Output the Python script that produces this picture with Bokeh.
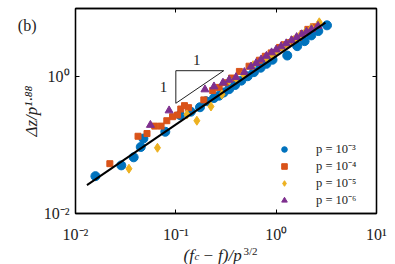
from bokeh.plotting import figure
from bokeh.models import (LogAxis, FixedTicker, CustomJSTickFormatter, Label,
                          Legend, LegendItem, Range1d, Title)
from bokeh.embed import file_html
from bokeh.resources import INLINE

# ---------------- data ----------------
x_p3 = [0.0158, 0.0286, 0.038, 0.0447, 0.0475, 0.0785, 0.110, 0.141, 0.174,
        0.20, 0.24, 0.27, 0.30, 0.34, 0.39, 0.45, 0.52, 0.60, 0.70, 0.80,
        0.92, 1.29, 1.62, 1.92, 2.24, 2.63, 3.21]
y_p3 = [0.0352, 0.0506, 0.0664, 0.094, 0.125, 0.157, 0.276, 0.309, 0.359,
        0.44, 0.49, 0.53, 0.59, 0.66, 0.76, 0.88, 1.02, 1.17, 1.36, 1.55,
        1.78, 2.05, 2.81, 3.33, 4.04, 4.68, 5.67]

x_p4 = [0.0220, 0.0420, 0.0516, 0.0617, 0.0713, 0.0813, 0.0927, 0.104, 0.112,
        0.122, 0.134, 0.19, 0.233, 0.27, 0.31, 0.36, 0.43, 0.537, 0.681, 0.78,
        0.891, 1.08, 1.2, 1.35, 1.5, 1.66, 1.85, 2.07, 2.35]
y_p4 = [0.0536, 0.135, 0.148, 0.190, 0.190, 0.228, 0.261, 0.276, 0.338,
        0.379, 0.354, 0.46, 0.63, 0.70, 0.82, 0.96, 1.20, 1.43, 1.75, 2.0,
        2.24, 2.69, 2.95, 3.18, 3.5, 3.77, 4.3, 4.95, 5.4]

x_p5 = [0.0341, 0.0656, 0.129, 0.162, 0.224, 0.288, 0.341, 0.40, 0.47, 0.589,
        0.794, 0.9, 1.0, 1.15, 1.3, 1.5, 1.7, 1.95, 2.25, 2.69]
y_p5 = [0.0452, 0.0916, 0.282, 0.228, 0.368, 0.553, 0.891, 0.95, 1.1, 1.48,
        1.89, 2.1, 2.35, 2.7, 3.0, 3.45, 3.9, 4.5, 5.2, 6.28]

x_p6 = [0.0558, 0.0857, 0.195, 0.24, 0.295, 0.34, 0.398, 0.482, 0.562, 0.63,
        0.708, 0.80, 0.90, 1.0, 1.12, 1.26, 1.42, 1.6, 1.8, 2.0, 2.25, 2.61]
y_p6 = [0.197, 0.321, 0.652, 0.72, 0.818, 0.90, 0.986, 1.17, 1.41, 1.58,
        1.79, 2.02, 2.27, 2.50, 2.78, 3.08, 3.42, 3.80, 4.18, 4.55, 4.95, 5.54]

x_fit = [0.013, 3.1]
y_fit = [0.026, 6.2]

tri_x = [0.1, 0.3, 0.1, 0.1]
tri_y = [0.41, 1.23, 1.23, 0.41]

x_ticks = [0.01, 0.1, 1, 10]
y_ticks = [0.01, 1]
tag_tick = [5.6]           # vertical position of the "(b)" panel tag

legend_labels = ["p = 10\u207b\u00b3", "p = 10\u207b\u2074",
                 "p = 10\u207b\u2075", "p = 10\u207b\u2076"]

colors = ["#0072BD", "#D95319", "#EDB120", "#7E2F8E"]

FONT = "Liberation Serif"
TXT = "#222222"

# ---------------- figure ----------------
p = figure(width=395, height=264, x_axis_type="log", y_axis_type="log",
           x_range=Range1d(0.01, 10), y_range=Range1d(0.01, 10),
           output_backend="svg", toolbar_location=None,
           min_border_left=75, min_border_right=19,
           min_border_top=8, min_border_bottom=51)
p.grid.visible = False
p.background_fill_color = "white"
p.outline_line_color = "black"
p.outline_line_width = 1.3

fmt = CustomJSTickFormatter(code="""
const sup = {'-':'\u207b','0':'\u2070','1':'\u00b9','2':'\u00b2','3':'\u00b3',
             '4':'\u2074','5':'\u2075','6':'\u2076','7':'\u2077','8':'\u2078','9':'\u2079'};
const e = Math.round(Math.log10(tick));
return '10' + String(e).split('').map(c => sup[c]).join('');
""")
blank = CustomJSTickFormatter(code="return '';")
tagfmt = CustomJSTickFormatter(code="return '\u2002\u2004(b)';")

def style_axis(ax, ticks, labels=True):
    ax.ticker = FixedTicker(ticks=ticks, minor_ticks=[])
    ax.formatter = fmt if labels else blank
    ax.major_tick_in = 4
    ax.major_tick_out = 0
    ax.major_tick_line_color = "black"
    ax.major_tick_line_width = 1
    ax.minor_tick_line_color = None
    ax.axis_line_color = "black"
    ax.axis_line_width = 1.3
    ax.major_label_text_font = FONT
    ax.major_label_text_font_size = "16px" if labels else "0px"
    ax.major_label_text_color = TXT
    if not labels:
        ax.major_label_standoff = 0

style_axis(p.xaxis[0], x_ticks)
style_axis(p.yaxis[0], y_ticks)
p.xaxis[0].major_label_standoff = 12
p.yaxis[0].major_label_standoff = 6
# tiny invisible spacer next to the y tick labels
p.yaxis[0].axis_label = "\u00a0"
p.yaxis[0].axis_label_text_font_size = "1px"
p.yaxis[0].axis_label_standoff = 0

top = LogAxis()
style_axis(top, x_ticks, labels=False)
p.add_layout(top, "above")
right = LogAxis()
style_axis(right, y_ticks, labels=False)
p.add_layout(right, "right")

# ---------------- glyphs ----------------
r1 = p.scatter(x_p3, y_p3, marker="circle", size=9, fill_color=colors[0],
               line_color=colors[0])
r2 = p.scatter(x_p4, y_p4, marker="square", size=6, fill_color=colors[1],
               line_color=colors[1])
r3 = p.scatter(x_p5, y_p5, marker="diamond", size=9, fill_color=colors[2],
               line_color=colors[2])
r4 = p.scatter(x_p6, y_p6, marker="triangle", size=8, fill_color=colors[3],
               line_color=colors[3])
p.line(x_fit, y_fit, line_color="black", line_width=2)
p.line(tri_x, tri_y, line_color=TXT, line_width=1)

p.add_layout(Label(x=0.162, y=1.77, text="1", text_font=FONT,
                   text_font_size="15px", text_align="center",
                   text_baseline="middle", text_color=TXT))
p.add_layout(Label(x=0.0753, y=0.708, text="1", text_font=FONT,
                   text_font_size="15px", text_align="center",
                   text_baseline="middle", text_color=TXT))

# ---------------- legend ----------------
items = [LegendItem(label=legend_labels[i], renderers=[r])
         for i, r in enumerate([r1, r2, r3, r4])]
legend = Legend(items=items, location=(201, 5), padding=0, margin=0,
                spacing=0, glyph_width=16, glyph_height=14, label_height=14,
                label_standoff=24, border_line_color=None,
                background_fill_alpha=0, label_text_font=FONT,
                label_text_font_size="12.5px", label_text_line_height=1.0,
                label_text_color=TXT)
p.add_layout(legend)

# ---------------- axis titles as side-panel titles ----------------
def ttl(text, size, style, offset, standoff, valign, align="left"):
    return Title(text=text, align=align, vertical_align=valign,
                 offset=offset, standoff=standoff, text_font=FONT,
                 text_font_size=size, text_font_style=style, text_color=TXT)

# y title: Δz/p^{1.88}
t_ylab = ttl("\u0394z/p\u00b9\u00b7\u2078\u2078", "17px", "italic", 0, -30,
             "top", align="center")
p.add_layout(t_ylab, "left")

# "(b)" panel tag: label of an outer left axis without line or ticks
tag = LogAxis(ticker=FixedTicker(ticks=tag_tick, minor_ticks=[]),
              formatter=tagfmt, axis_line_color=None,
              major_tick_line_color=None, minor_tick_line_color=None,
              major_tick_in=0, major_tick_out=0,
              major_label_text_font=FONT, major_label_text_font_size="16px",
              major_label_text_color=TXT, major_label_standoff=0)
p.add_layout(tag, "left")

# x title: (f_c - f)/p^{3/2}
t_xsup = ttl("3/2", "11px", "normal", 168, -4, "middle")
t_xbase = ttl("(f\u2002\u2212\u2005f)/p", "17px", "italic", 108, -23, "middle")
t_xsub = ttl("c", "11px", "italic", 119, -13, "middle")
p.add_layout(t_xsup, "below")
p.add_layout(t_xbase, "below")
p.add_layout(t_xsub, "below")

open("out.html", "w").write(file_html(p, INLINE))
